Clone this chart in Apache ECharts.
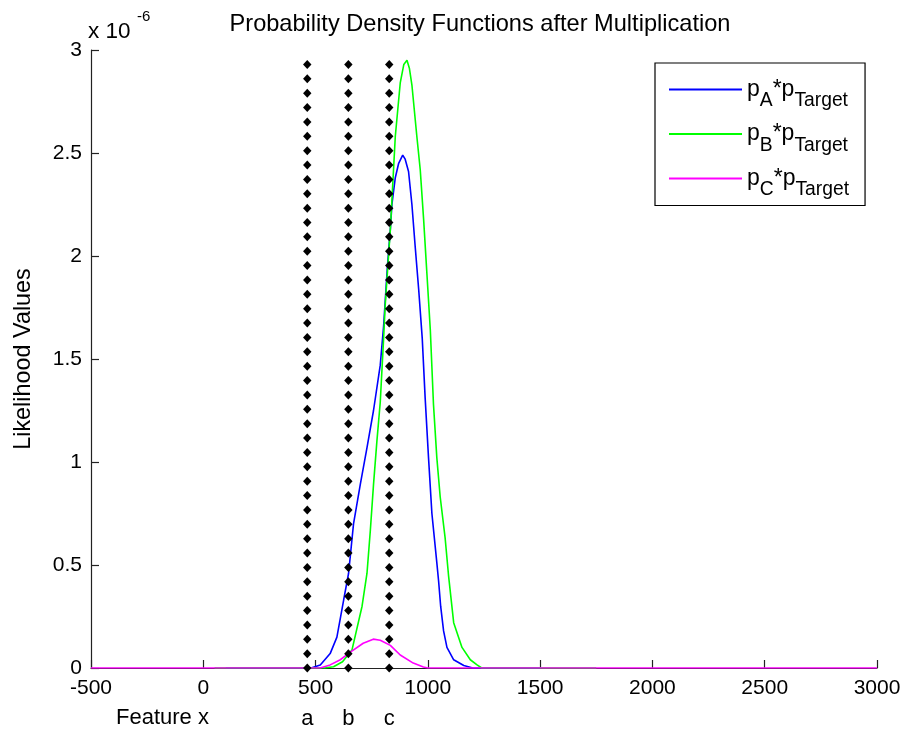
<!DOCTYPE html>
<html>
<head>
<meta charset="utf-8">
<script src="https://cdn.jsdelivr.net/npm/echarts@6/dist/echarts.min.js"></script>
<style>html,body{margin:0;padding:0;background:#fff}#c{width:904px;height:735px}</style>
</head>
<body>
<div id="c"></div>
<script>
// Feature x values and likelihoods (in units of 1e-6)
const xA = [100, 480, 521, 565, 595, 625, 647, 669, 699, 729, 758, 788, 803, 820, 833, 840, 855, 870, 888, 899, 914, 929, 944, 959, 975, 988, 1003, 1018, 1040, 1048, 1057, 1070, 1085, 1115, 1160, 1200, 1500];
const yA = [0, 0, 0.015, 0.07, 0.15, 0.33, 0.46, 0.70, 0.89, 1.07, 1.25, 1.47, 1.66, 1.95, 2.13, 2.25, 2.38, 2.45, 2.49, 2.47, 2.41, 2.25, 2.04, 1.84, 1.60, 1.31, 1.02, 0.75, 0.51, 0.42, 0.30, 0.18, 0.10, 0.04, 0.012, 0, 0];
const xB = [50, 540, 580, 620, 662, 707, 729, 744, 758, 773, 788, 803, 810, 833, 855, 877, 893, 907, 918, 929, 951, 966, 981, 996, 1011, 1025, 1040, 1055, 1077, 1092, 1115, 1152, 1189, 1219, 1240, 1750];
const yB = [0, 0, 0.006, 0.03, 0.087, 0.30, 0.46, 0.67, 0.89, 1.10, 1.29, 1.60, 1.76, 2.13, 2.58, 2.84, 2.93, 2.95, 2.91, 2.83, 2.58, 2.42, 2.18, 1.91, 1.64, 1.28, 1.02, 0.83, 0.63, 0.45, 0.22, 0.10, 0.04, 0.015, 0, 0];
const xC = [-500, 520, 565, 610, 655, 712, 757, 788, 833, 877, 935, 980, 1000, 3000];
const yC = [0, 0, 0.015, 0.04, 0.077, 0.12, 0.14, 0.135, 0.11, 0.063, 0.024, 0.005, 0, 0];
const markerX = [463, 646, 828];
const markerTop = [2.93, 2.93, 2.93];
const markerNames = ['a', 'b', 'c'];
const seriesNames = ['A', 'B', 'C'];
const xTicks = [-500, 0, 500, 1000, 1500, 2000, 2500, 3000];
const yTicks = [0, 0.5, 1, 1.5, 2, 2.5, 3];

const FONT = 'Liberation Sans, Arial, Helvetica, sans-serif';
const DIAMONDS = 43;

function zip(xs, ys) { return xs.map((x, i) => [x, ys[i]]); }

const chart = echarts.init(document.getElementById('c'), null, {renderer: 'canvas'});
const lineSeries = (name, xs, ys, color) => ({
  type: 'line', name: name, data: zip(xs, ys), symbol: 'none', showSymbol: false, smooth: false,
  lineStyle: {color: color, width: 1.6}, itemStyle: {color: color}, z: 3
});

chart.setOption({
  animation: false,
  backgroundColor: '#fff',
  textStyle: {fontFamily: FONT},
  title: {
    text: 'Probability Density Functions after Multiplication',
    left: 475, top: 7, textAlign: 'center',
    textStyle: {fontFamily: FONT, fontSize: 23.6, fontWeight: 'normal', color: '#000'}
  },
  grid: {left: 91, right: 27, top: 50, bottom: 67, containLabel: false},
  xAxis: {
    type: 'value', min: xTicks[0], max: xTicks[xTicks.length - 1], interval: 500,
    axisLine: {show: true, onZero: false, lineStyle: {color: '#222', width: 1.2}},
    axisTick: {show: true, inside: true, length: 8, lineStyle: {color: '#222', width: 1.2}},
    axisLabel: {margin: 10, fontFamily: FONT, fontSize: 21, color: '#000', formatter: v => String(v)},
    splitLine: {show: false}
  },
  yAxis: {
    type: 'value', min: yTicks[0], max: yTicks[yTicks.length - 1], interval: 0.5,
    name: 'Likelihood Values', nameLocation: 'middle', nameGap: 56, nameRotate: 90,
    nameTextStyle: {fontFamily: FONT, fontSize: 23.4, color: '#000'},
    axisLine: {show: true, onZero: false, lineStyle: {color: '#222', width: 1.2}},
    axisTick: {show: true, inside: true, length: 8, lineStyle: {color: '#222', width: 1.2}},
    axisLabel: {margin: 9, fontFamily: FONT, fontSize: 21, color: '#000', formatter: v => String(v)},
    splitLine: {show: false}
  },
  legend: {
    orient: 'vertical', left: 655, top: 63,
    padding: [15, 16, 6, 14], itemGap: 12, itemWidth: 73, itemHeight: 2,
    icon: 'rect',
    backgroundColor: '#fff', borderColor: '#000', borderWidth: 1.2, borderRadius: 0,
    data: ['A', 'B', 'C'],
    formatter: n => '{p|p}{s|' + n + '}{p|*p}{s|Target}',
    textStyle: {
      fontFamily: FONT, color: '#000',
      rich: {
        p: {fontFamily: FONT, fontSize: 23, lineHeight: 42, color: '#000'},
        s: {fontFamily: FONT, fontSize: 19.3, lineHeight: 18, verticalAlign: 'bottom', color: '#000'}
      }
    }
  },
  graphic: [
    {type: 'text', left: 88, top: 20, style: {text: 'x 10', fontFamily: FONT, fontSize: 22.5, fill: '#000'}},
    {type: 'text', left: 137, top: 9, style: {text: '-6', fontFamily: FONT, fontSize: 15, fill: '#000'}},
    {type: 'text', left: 116, top: 707, style: {text: 'Feature x', fontFamily: FONT, fontSize: 22, fill: '#000'}}
  ],
  series: [
    lineSeries(seriesNames[0], xA, yA, '#0000ff'),
    lineSeries(seriesNames[1], xB, yB, '#00ff00'),
    lineSeries(seriesNames[2], xC, yC, '#ff00ff'),
    {
      type: 'custom', name: 'markers', z: 4,
      data: zip(markerX, markerTop),
      renderItem: function (params, api) {
        const x = api.value(0), top = api.value(1);
        const p0 = api.coord([x, 0]), p1 = api.coord([x, top]);
        const children = [];
        for (let i = 0; i < DIAMONDS; i++) {
          const y = p0[1] + (p1[1] - p0[1]) * i / (DIAMONDS - 1);
          children.push({
            type: 'polygon',
            shape: {points: [[p0[0], y - 4.5], [p0[0] + 4.2, y], [p0[0], y + 4.5], [p0[0] - 4.2, y]]},
            style: {fill: '#000'}
          });
        }
        children.push({
          type: 'text',
          style: {text: markerNames[params.dataIndex], x: p0[0], y: p0[1] + 51,
                  align: 'center', verticalAlign: 'middle', fontFamily: FONT, fontSize: 22, fill: '#000'}
        });
        return {type: 'group', children: children};
      }
    }
  ]
});
</script>
</body>
</html>
